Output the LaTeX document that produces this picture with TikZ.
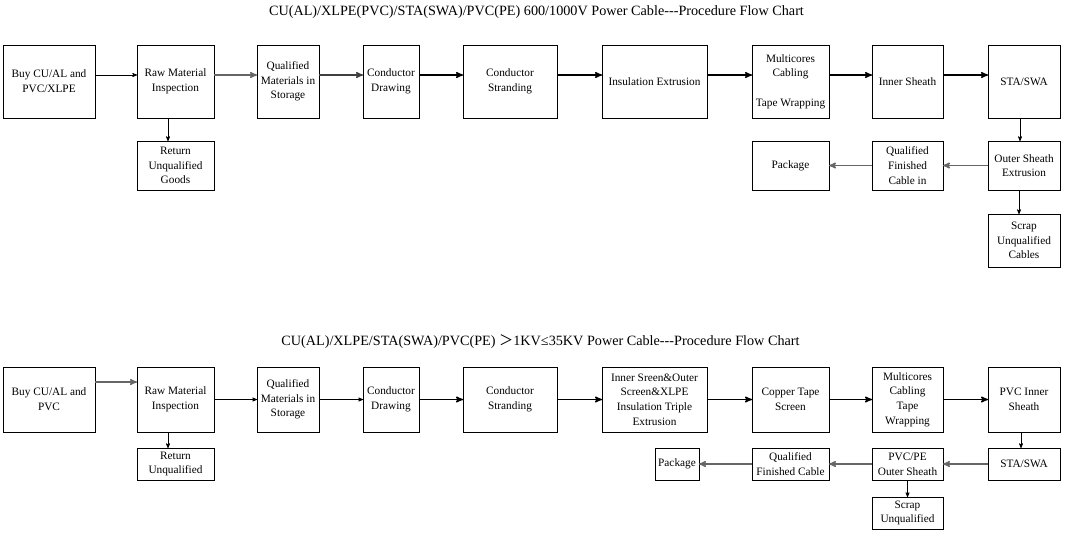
\documentclass[tikz,border=0pt]{standalone}
\usepackage{fontspec}
\setmainfont{Liberation Serif}
\newfontfamily\cjk{Noto Sans CJK SC}
\usepackage{tikz}
\usetikzlibrary{positioning,arrows}

\tikzset{
  box/.style={draw, rectangle, align=center, inner sep=1pt, outer sep=0pt, line width=0.7pt,
    font=\fontsize{11.3}{14.7}\selectfont},
  title/.style={font=\fontsize{14.2}{16}\selectfont},
  flowthin/.style={line width=0.7pt},
  flowheavy/.style={line width=1.4pt},
  flowgrey/.style={line width=1.4pt, draw=black!60}
}

\begin{document}
\begin{tikzpicture}[auto, ->,>=stealth', node distance=44pt, x=1pt, y=-1pt]
        \useasboundingbox (0,0) rectangle (1089,541);

        % first chart
        \node[title] (title1) at (536.5,12) {CU(AL)/XLPE(PVC)/STA(SWA)/PVC(PE) 600/1000V Power Cable-{}-{}-Procedure Flow Chart};

        \node[box,minimum width=92pt,minimum height=73pt] (buy1) at (49,81.5) {Buy CU/AL and\\PVC/XLPE};
        \node[box,minimum width=77pt,minimum height=73pt] (raw1) [right = 42pt of buy1] {Raw Material\\Inspection};
        \node[box,minimum width=62pt,minimum height=73pt] (qual1) [right = 43pt of raw1] {Qualified\\Materials in\\Storage};
        \node[box,minimum width=56pt,minimum height=73pt] (draw1) [right = of qual1] {Conductor\\Drawing};
        \node[box,minimum width=94pt,minimum height=73pt] (strand1) [right = of draw1] {Conductor\\Stranding};
        \node[box,minimum width=105pt,minimum height=73pt] (insul1) [right = 45pt of strand1] {Insulation Extrusion};
        \node[box,minimum width=77pt,minimum height=73pt] (multi1) [right = 45pt of insul1] {Multicores\\Cabling\\[14.7pt]Tape Wrapping};
        \node[box,minimum width=71pt,minimum height=73pt] (inner1) [right = 43pt of multi1] {Inner Sheath};
        \node[box,minimum width=72pt,minimum height=73pt] (sta1) [right = 45pt of inner1] {STA/SWA};

        \node[box,minimum width=77pt,minimum height=49pt] (ret1) [below = 23pt of raw1] {Return\\Unqualified\\Goods};
        \node[box,minimum width=72pt,minimum height=49pt] (outer1) [below = 23pt of sta1] {Outer Sheath\\Extrusion};
        \node[box,minimum width=71pt,minimum height=49pt] (fin1) [left = 45pt of outer1] {Qualified\\Finished\\Cable in};
        \node[box,minimum width=77pt,minimum height=49pt] (pack1) [left = 43pt of fin1] {Package};
        \node[box,minimum width=72pt,minimum height=53pt] (scrap1) [below = 24pt of outer1] {Scrap\\Unqualified\\Cables};

        \draw[flowthin] ([yshift=6.5pt]buy1.east) -- ([yshift=6.5pt]raw1.west);
        \draw[flowgrey] ([yshift=6.5pt]raw1.east) -- ([yshift=6.5pt]qual1.west);
        \draw[flowgrey,draw=black!75] ([yshift=6.5pt]qual1.east) -- ([yshift=6.5pt]draw1.west);
        \draw[flowheavy] ([yshift=6.5pt]draw1.east) -- ([yshift=6.5pt]strand1.west);
        \draw[flowheavy] ([yshift=6.5pt]strand1.east) -- ([yshift=6.5pt]insul1.west);
        \draw[flowheavy] ([yshift=6.5pt]insul1.east) -- ([yshift=6.5pt]multi1.west);
        \draw[flowheavy] ([yshift=6.5pt]multi1.east) -- ([yshift=6.5pt]inner1.west);
        \draw[flowheavy] ([yshift=6.5pt]inner1.east) -- ([yshift=6.5pt]sta1.west);
        \draw[flowthin] ([xshift=-7.5pt]raw1.south) -- ([xshift=-7.5pt]ret1.north);
        \draw[flowthin] ([xshift=-4pt]sta1.south) -- ([xshift=-4pt]outer1.north);
        \draw[flowthin] ([xshift=-5pt]outer1.south) -- ([xshift=-5pt]scrap1.north);
        \path (outer1) edge[flowgrey] (fin1)
              (fin1) edge[flowgrey] (pack1);

        % second chart
        \node[title] (title2) at (540.5,342) {CU(AL)/XLPE/STA(SWA)/PVC(PE) {\cjk ＞}1KV≤35KV Power Cable-{}-{}-Procedure Flow Chart};

        \node[box,minimum width=92pt,minimum height=65pt] (buy2) at (49,399.5) {Buy CU/AL and\\PVC};
        \node[box,minimum width=77pt,minimum height=65pt] (raw2) [right = 42pt of buy2] {Raw Material\\Inspection};
        \node[box,minimum width=62pt,minimum height=65pt] (qual2) [right = 43pt of raw2] {Qualified\\Materials in\\Storage};
        \node[box,minimum width=56pt,minimum height=65pt] (draw2) [right = of qual2] {Conductor\\Drawing};
        \node[box,minimum width=94pt,minimum height=65pt] (strand2) [right = of draw2] {Conductor\\Stranding};
        \node[box,minimum width=105pt,minimum height=65pt] (screen2) [right = 45pt of strand2] {Inner Sreen\&Outer\\Screen\&XLPE\\Insulation Triple\\Extrusion};
        \node[box,minimum width=77pt,minimum height=65pt] (copper2) [right = 45pt of screen2] {Copper Tape\\Screen};
        \node[box,minimum width=71pt,minimum height=65pt] (multi2) [right = 43pt of copper2] {Multicores\\Cabling\\Tape\\Wrapping};
        \node[box,minimum width=72pt,minimum height=65pt] (inner2) [right = 45pt of multi2] {PVC Inner\\Sheath};

        \node[box,minimum width=77pt,minimum height=32pt] (ret2) [below = 16pt of raw2] {Return\\Unqualified};
        \node[box,minimum width=72pt,minimum height=32pt] (sta2) [below = 16pt of inner2] {STA/SWA};
        \node[box,minimum width=71pt,minimum height=32pt] (outer2) [left = 45pt of sta2] {PVC/PE\\Outer Sheath};
        \node[box,minimum width=77pt,minimum height=32pt] (fin2) [left = 43pt of outer2] {Qualified\\Finished Cable};
        \node[box,minimum width=44pt,minimum height=32pt] (pack2) [left = 53pt of fin2] {Package};
        \node[box,minimum width=71pt,minimum height=32pt] (scrap2) [below = 17pt of outer2] {Scrap\\Unqualified};

        \draw[flowgrey] ([yshift=17.5pt]buy2.east) -- ([yshift=17.5pt]raw2.west);
        \path (raw2) edge[flowthin] (qual2)
              (qual2) edge[flowthin] (draw2)
              (draw2) edge[flowheavy] (strand2)
              (strand2) edge[flowheavy] (screen2)
              (screen2) edge[flowheavy] (copper2)
              (copper2) edge[flowheavy] (multi2)
              (multi2) edge[flowheavy] (inner2)
              (sta2) edge[flowgrey] (outer2)
              (outer2) edge[flowgrey] (fin2)
              (fin2) edge[flowgrey] (pack2)
              (outer2) edge[flowthin] (scrap2);
        \draw[flowthin] ([xshift=-7.5pt]raw2.south) -- ([xshift=-7.5pt]ret2.north);
        \draw[flowthin] ([xshift=-3pt]inner2.south) -- ([xshift=-3pt]sta2.north);
      \end{tikzpicture}
\end{document}
